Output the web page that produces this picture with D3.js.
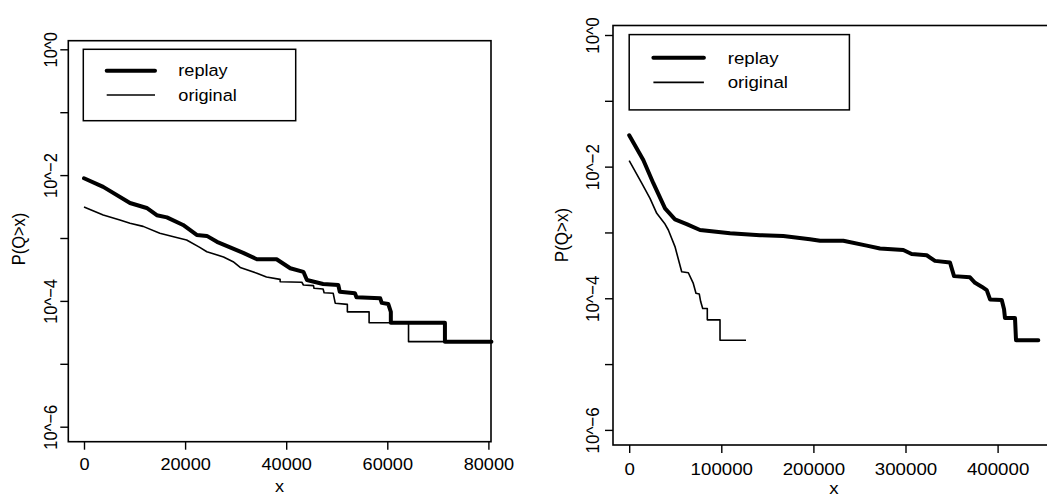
<!DOCTYPE html>
<html>
<head>
<meta charset="utf-8">
<script src="https://cdn.jsdelivr.net/npm/d3@7"></script>
<style>
  body { margin: 0; background: #fff; }
  svg { display: block; }
  text { font-family: "Liberation Sans", Arial, Helvetica, sans-serif; fill: #000; }
</style>
</head>
<body>
<svg id="chart" width="1047" height="498"></svg>
<script>
// ---- data (x, P(Q>x)) ----
const leftReplayX = [0, 3800, 9100, 12400, 14400, 16400, 19600, 22300, 24300, 26300, 28900, 31500, 34200, 38100, 40800, 43400, 44100, 45700, 47300, 50300, 50600, 53600, 53900, 58600, 58900, 60200, 60700, 60700, 71400, 71400, 80600];
const leftReplayP = [8.9e-3, 6.5e-3, 3.6e-3, 3.0e-3, 2.3e-3, 2.13e-3, 1.61e-3, 1.12e-3, 1.08e-3, 8.7e-4, 7.1e-4, 5.8e-4, 4.6e-4, 4.6e-4, 3.3e-4, 2.9e-4, 2.15e-4, 2.0e-4, 1.86e-4, 1.79e-4, 1.40e-4, 1.32e-4, 1.14e-4, 1.10e-4, 9.3e-5, 8.9e-5, 6.7e-5, 4.5e-5, 4.5e-5, 2.25e-5, 2.25e-5];

const leftOrigX = [0, 3800, 7100, 9100, 11700, 15000, 18300, 20300, 22900, 24300, 27600, 29500, 30900, 34200, 36100, 38800, 38800, 43100, 43400, 45400, 45500, 47300, 47500, 49300, 49700, 52100, 52100, 56400, 56400, 64200, 64200, 71400];
const leftOrigP = [3.1e-3, 2.32e-3, 1.93e-3, 1.71e-3, 1.53e-3, 1.19e-3, 1.02e-3, 9.3e-4, 7.1e-4, 6.05e-4, 5.0e-4, 4.2e-4, 3.4e-4, 2.75e-4, 2.4e-4, 2.2e-4, 2.02e-4, 1.98e-4, 1.79e-4, 1.75e-4, 1.59e-4, 1.55e-4, 1.35e-4, 1.32e-4, 9.2e-5, 8.8e-5, 6.7e-5, 6.7e-5, 4.5e-5, 4.5e-5, 2.25e-5, 2.25e-5];

const rightReplayX = [0, 15300, 26200, 38900, 49700, 62400, 76900, 109500, 142000, 167300, 196300, 207200, 232500, 257900, 272300, 297600, 306700, 323000, 332000, 348300, 352700, 370000, 375500, 382700, 388200, 391800, 404500, 407000, 408000, 418900, 420000, 444200];
const rightReplayP = [3.0e-2, 1.26e-2, 5.6e-3, 2.32e-3, 1.58e-3, 1.34e-3, 1.09e-3, 9.7e-4, 9.1e-4, 8.8e-4, 7.9e-4, 7.5e-4, 7.5e-4, 6.3e-4, 5.7e-4, 5.4e-4, 4.7e-4, 4.5e-4, 3.7e-4, 3.5e-4, 2.17e-4, 2.08e-4, 1.72e-4, 1.50e-4, 1.33e-4, 9.6e-5, 9.4e-5, 6.8e-5, 5.0e-5, 5.0e-5, 2.3e-5, 2.3e-5];

const rightOrigX = [0, 13600, 22600, 29900, 38900, 42500, 49700, 57000, 64200, 69600, 72500, 76100, 77600, 79800, 84800, 84800, 98600, 98600, 126800];
const rightOrigP = [1.23e-2, 5.6e-3, 3.3e-3, 1.95e-3, 1.34e-3, 1.09e-3, 6.1e-4, 2.53e-4, 2.44e-4, 1.68e-4, 1.19e-4, 1.16e-4, 8.9e-5, 7.0e-5, 7.0e-5, 4.7e-5, 4.7e-5, 2.3e-5, 2.3e-5];

const leftXTicks = [0, 20000, 40000, 60000, 80000];
const rightXTicks = [0, 100000, 200000, 300000, 400000];
const yTicks = [1, 1e-1, 1e-2, 1e-3, 1e-4, 1e-5, 1e-6];
const yTickLabels = ["10^0", "", "10^\u22122", "", "10^\u22124", "", "10^\u22126"];
const legendLabels = ["replay", "original"];
const xLabel = "x";
const yLabel = "P(Q>x)";

const STRETCH = 1.1; // reference text is a bit wider than tall

const svg = d3.select("#chart");

function zip(xs, ps) {
  return xs.map((x, i) => [x, ps[i]]);
}

function drawPanel(p) {
  const g = svg.append("g");

  const x = d3.scaleLinear().domain(p.xDomain).range(p.xRange);
  const y = d3.scaleLog().domain([1, 1e-6]).range(p.yRange);

  const line = d3.line()
    .x(d => x(d[0]))
    .y(d => y(d[1]));

  // series
  g.append("path")
    .datum(p.orig)
    .attr("d", line)
    .attr("fill", "none")
    .attr("stroke", "#000")
    .attr("stroke-width", 1.6)
    .attr("stroke-linejoin", "round");

  g.append("path")
    .datum(p.replay)
    .attr("d", line)
    .attr("fill", "none")
    .attr("stroke", "#000")
    .attr("stroke-width", 4)
    .attr("stroke-linejoin", "round")
    .attr("stroke-linecap", "round");

  // x axis
  const xAxis = g.append("g")
    .attr("transform", `translate(0,${p.box.bottom})`)
    .call(d3.axisBottom(x).tickValues(p.xTicks).tickSize(8).tickFormat(d3.format("d")));
  xAxis.select(".domain").remove();
  xAxis.selectAll("line").attr("stroke", "#000").attr("stroke-width", 1.4);
  xAxis.selectAll("text")
    .attr("y", null)
    .attr("dy", null)
    .attr("text-anchor", "middle")
    .attr("font-size", p.fontSize)
    .attr("transform", `translate(0,${p.xLabelBase - p.box.bottom}) scale(${STRETCH},1)`);

  // y axis, labels rotated like R's default
  const yAxis = g.append("g")
    .attr("transform", `translate(${p.box.left},0)`)
    .call(d3.axisLeft(y).tickValues(yTicks).tickSize(8).tickFormat((d, i) => yTickLabels[i]));
  yAxis.select(".domain").remove();
  yAxis.selectAll("line").attr("stroke", "#000").attr("stroke-width", 1.4);
  yAxis.selectAll("text")
    .attr("x", null)
    .attr("dy", null)
    .attr("text-anchor", "middle")
    .attr("font-size", p.fontSize)
    .attr("transform", `translate(${p.yLabelBase - p.box.left},0) scale(${STRETCH},1) rotate(-90)`);

  // frame
  g.append("rect")
    .attr("x", p.box.left)
    .attr("y", p.box.top)
    .attr("width", p.box.right - p.box.left)
    .attr("height", p.box.bottom - p.box.top)
    .attr("fill", "none")
    .attr("stroke", "#000")
    .attr("stroke-width", 1.6);

  // axis titles
  g.append("text")
    .attr("text-anchor", "middle")
    .attr("font-size", p.fontSize)
    .attr("transform", `translate(${(p.box.left + p.box.right) / 2},${p.xTitleBase}) scale(${STRETCH},1)`)
    .text(xLabel);

  g.append("text")
    .attr("text-anchor", "middle")
    .attr("font-size", p.fontSize)
    .attr("transform", `translate(${p.yTitleBase},${p.yTitleMid}) scale(${STRETCH},1) rotate(-90)`)
    .text(yLabel);

  // legend
  const lg = p.legend;
  g.append("rect")
    .attr("x", lg.x0)
    .attr("y", lg.y0)
    .attr("width", lg.x1 - lg.x0)
    .attr("height", lg.y1 - lg.y0)
    .attr("fill", "#fff")
    .attr("stroke", "#000")
    .attr("stroke-width", 1.5);

  const widths = [4, 1.6];
  legendLabels.forEach((label, i) => {
    g.append("line")
      .attr("x1", lg.lineX0)
      .attr("x2", lg.lineX1)
      .attr("y1", lg.rows[i])
      .attr("y2", lg.rows[i])
      .attr("stroke", "#000")
      .attr("stroke-width", widths[i])
      .attr("stroke-linecap", i === 0 ? "round" : "butt");
    g.append("text")
      .attr("dy", "0.35em")
      .attr("font-size", p.fontSize)
      .attr("transform", `translate(${lg.textX},${lg.rows[i]}) scale(${STRETCH},1)`)
      .text(label);
  });
}

drawPanel({
  replay: zip(leftReplayX, leftReplayP),
  orig: zip(leftOrigX, leftOrigP),
  xTicks: leftXTicks,
  xDomain: [0, 80000],
  xRange: [84, 488.4],
  yRange: [49.3, 426.7],
  box: { left: 68.3, top: 40.7, right: 491, bottom: 441.7 },
  fontSize: 16.5,
  xLabelBase: 470,
  xTitleBase: 492,
  yLabelBase: 56.7,
  yTitleBase: 25,
  yTitleMid: 239,
  legend: { x0: 83.3, y0: 49.3, x1: 295.7, y1: 120.7, lineX0: 106.7, lineX1: 155, textX: 178.3, rows: [70.7, 95] }
});

drawPanel({
  replay: zip(rightReplayX, rightReplayP),
  orig: zip(rightOrigX, rightOrigP),
  xTicks: rightXTicks,
  xDomain: [0, 400000],
  xRange: [629.2, 997.6],
  yRange: [35, 429.9],
  box: { left: 613, top: 25.5, right: 1055, bottom: 445 },
  fontSize: 17,
  xLabelBase: 474.5,
  xTitleBase: 494,
  yLabelBase: 599,
  yTitleBase: 567.5,
  yTitleMid: 235,
  legend: { x0: 629.2, y0: 34.6, x1: 849.4, y1: 109.9, lineX0: 653.4, lineX1: 703.9, textX: 727.7, rows: [57.8, 82.4] }
});
</script>
</body>
</html>
